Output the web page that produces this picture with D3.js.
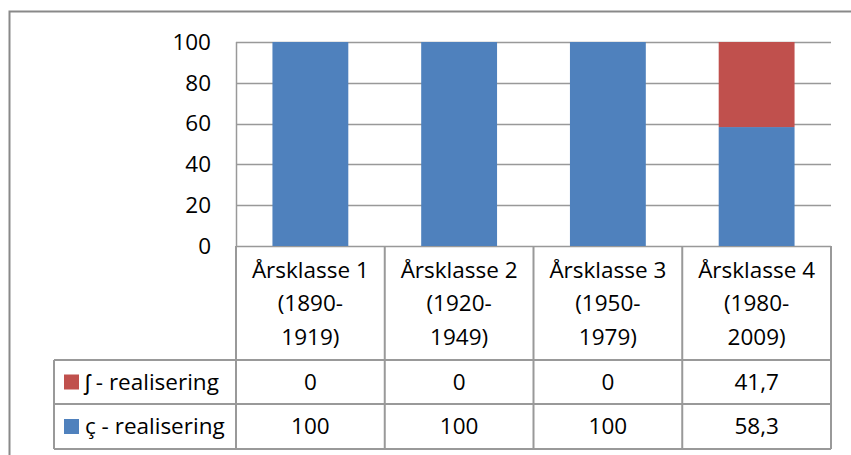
<!DOCTYPE html>
<html lang="no">
<head>
<meta charset="UTF-8">
<title>Årsklasser</title>
<script src="https://cdn.jsdelivr.net/npm/d3@7"></script>
<style>
  body { margin: 0; background: #fff; }
  text { font-family: "Open Sans", "Liberation Sans", sans-serif; fill: #000; }
</style>
</head>
<body>
<script>
// data
var categories = ["Årsklasse 1 (1890- 1919)", "Årsklasse 2 (1920- 1949)", "Årsklasse 3 (1950- 1979)", "Årsklasse 4 (1980- 2009)"];
var catLines = [["Årsklasse 1", "(1890-", "1919)"], ["Årsklasse 2", "(1920-", "1949)"], ["Årsklasse 3", "(1950-", "1979)"], ["Årsklasse 4", "(1980-", "2009)"]];
var seriesNames = ["ʃ - realisering", "ç - realisering"];
var shValues = [0, 0, 0, 41.7];
var cValues = [100, 100, 100, 58.3];
var shLabels = ["0", "0", "0", "41,7"];
var cLabels = ["100", "100", "100", "58,3"];
var yTicks = [0, 20, 40, 60, 80, 100];
var colors = { sh: "#C0504D", c: "#4F81BD" };

var width = 851, height = 455;
var fs = "22.5px";
var svg = d3.select("body").append("svg")
    .attr("width", width)
    .attr("height", height);

// chart border
svg.append("rect")
    .attr("x", 9.5).attr("y", 11.5)
    .attr("width", 860).attr("height", 460)
    .attr("fill", "none")
    .attr("stroke", "#898989")
    .attr("stroke-width", 2);

var plotLeft = 236, plotRight = 831, plotTop = 42, plotBottom = 246;
var headBottom = 360, row1Bottom = 404, row2Bottom = 449, legendLeft = 54;

var x = d3.scaleBand().domain(categories).range([plotLeft, plotRight]).paddingInner(0).paddingOuter(0);
var y = d3.scaleLinear().domain([0, 100]).range([plotBottom, plotTop]);

// gridlines
svg.selectAll(".grid").data(yTicks).enter().append("line")
    .attr("x1", plotLeft).attr("x2", plotRight)
    .attr("y1", function(d){ return Math.round(y(d)) + 0.5; })
    .attr("y2", function(d){ return Math.round(y(d)) + 0.5; })
    .attr("stroke", "#999")
    .attr("stroke-width", 1.5);

// left axis line
svg.append("line")
    .attr("x1", plotLeft + 0.5).attr("x2", plotLeft + 0.5)
    .attr("y1", plotTop).attr("y2", plotBottom)
    .attr("stroke", "#999").attr("stroke-width", 1.5);

// y tick labels
svg.selectAll(".ytick").data(yTicks).enter().append("text")
    .attr("x", 211)
    .attr("y", function(d){ return y(d); })
    .attr("dy", "0.35em")
    .attr("text-anchor", "end")
    .style("font-size", fs)
    .text(function(d){ return d; });

// stacked bars
var stackData = categories.map(function(c, i){ return { cat: c, c: cValues[i], sh: shValues[i] }; });
var stack = d3.stack().keys(["c", "sh"])(stackData);
var bw = x.bandwidth() * 0.51;

svg.selectAll(".series").data(stack).enter().append("g")
    .attr("fill", function(d){ return colors[d.key]; })
  .selectAll("rect").data(function(d){ return d; }).enter().append("rect")
    .attr("x", function(d){ return x(d.data.cat) + (x.bandwidth() - bw) / 2; })
    .attr("width", bw)
    .attr("y", function(d){ return y(d[1]); })
    .attr("height", function(d){ return y(d[0]) - y(d[1]); });

// data table lines
var tbl = svg.append("g").attr("stroke", "#999").attr("stroke-width", 2).attr("fill", "none");
var colEdges = categories.map(function(c){ return x(c); }).concat([plotRight]);
colEdges.forEach(function(cx){
    tbl.append("line").attr("x1", cx).attr("x2", cx).attr("y1", plotBottom).attr("y2", row2Bottom);
});
tbl.append("line").attr("x1", legendLeft).attr("x2", legendLeft).attr("y1", headBottom).attr("y2", row2Bottom);
[headBottom, row1Bottom, row2Bottom].forEach(function(ry){
    tbl.append("line").attr("x1", legendLeft).attr("x2", plotRight).attr("y1", ry).attr("y2", ry);
});

// category header
catLines.forEach(function(lines, i){
    var cx = x(categories[i]) + x.bandwidth() / 2;
    lines.forEach(function(l, j){
        svg.append("text")
            .attr("x", cx).attr("y", 270 + j * 33.5)
            .attr("dy", "0.35em")
            .attr("text-anchor", "middle")
            .style("font-size", fs)
            .text(l);
    });
});

// table rows
var rows = [
    { name: seriesNames[0], color: colors.sh, labels: shLabels, top: headBottom, bottom: row1Bottom },
    { name: seriesNames[1], color: colors.c, labels: cLabels, top: row1Bottom, bottom: row2Bottom }
];
rows.forEach(function(r){
    var cy = (r.top + r.bottom) / 2;
    svg.append("rect")
        .attr("x", 64).attr("y", cy - 7.5)
        .attr("width", 15).attr("height", 15)
        .attr("fill", r.color);
    svg.append("text")
        .attr("x", 85).attr("y", cy)
        .attr("dy", "0.35em")
        .style("font-size", fs)
        .text(r.name);
    r.labels.forEach(function(l, i){
        svg.append("text")
            .attr("x", x(categories[i]) + x.bandwidth() / 2).attr("y", cy)
            .attr("dy", "0.35em")
            .attr("text-anchor", "middle")
            .style("font-size", fs)
            .text(l);
    });
});
</script>
</body>
</html>
